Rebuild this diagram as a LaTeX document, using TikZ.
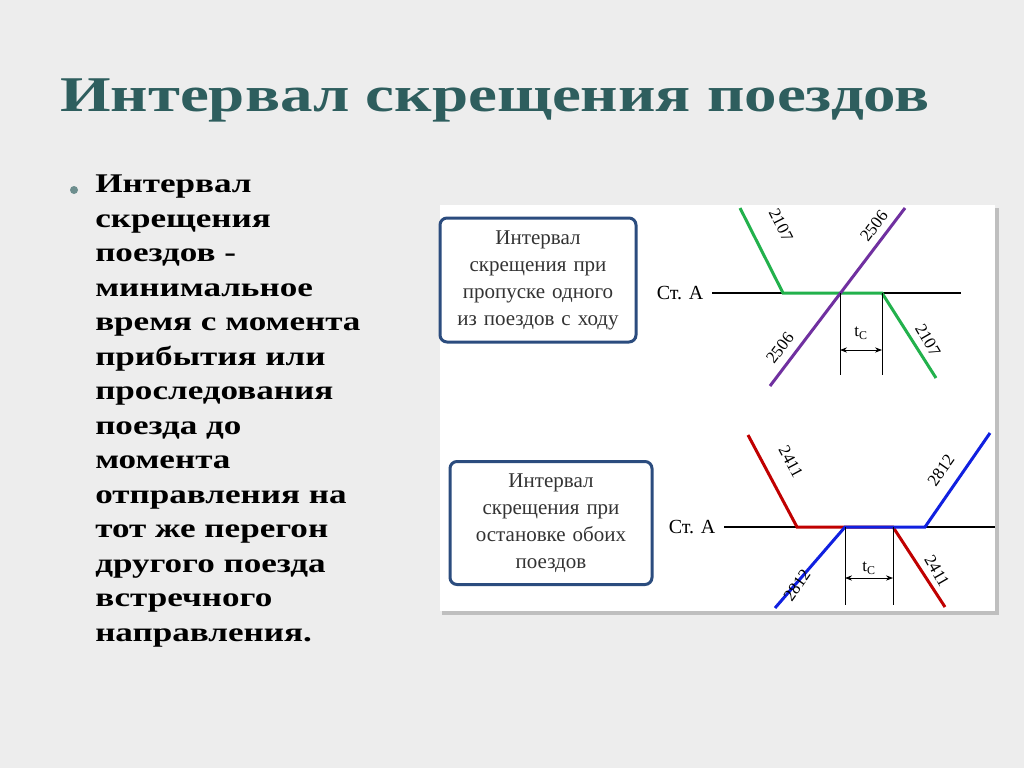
\documentclass[tikz,border=0pt]{standalone}
\usepackage{fontspec}
\setmainfont{Liberation Serif}
\usetikzlibrary{arrows.meta}
\definecolor{teal1}{HTML}{2E5E5E}
\definecolor{boxb}{HTML}{2B4C7E}
\definecolor{gr}{HTML}{22B14C}
\definecolor{pu}{HTML}{7030A0}
\definecolor{rd}{HTML}{C00000}
\definecolor{bl}{HTML}{1020E0}
\tikzset{
 info/.style={draw=boxb,line width=3pt,rounded corners=7pt,fill=white,align=center,font=\fontsize{21}{27}\selectfont,text=black!80,inner sep=2pt},
 tr/.style={line width=3pt},
 lab/.style={font=\fontsize{17}{17}\selectfont,inner sep=0pt},
 dim/.style={line width=0.8pt},
}
\begin{document}
\begin{tikzpicture}[x=1pt,y=-1pt]
\useasboundingbox (0,0) rectangle (1024,768);
\fill[black!7] (0,0) rectangle (1024,768);
\node[font=\fontsize{50}{50}\selectfont\bfseries,text=teal1,xscale=1.3,transform shape] (title) at (495,100) {Интервал скрещения поездов};
\fill[teal1!70] (74,190) circle (4);
\node[anchor=north west,align=left,font=\fontsize{27}{34.5}\selectfont\bfseries,inner sep=0,xscale=1.3,transform shape] (body) at (95,175) {Интервал\\скрещения\\поездов -\\минимальное\\время с момента\\прибытия или\\проследования\\поезда до\\момента\\отправления на\\тот же перегон\\другого поезда\\встречного\\направления.};
% panel
\fill[black!25] (442,208) rectangle (999,615);
\fill[white] (440,205) rectangle (995,611);
% top
\node[info,minimum width=196,minimum height=124,text width=190] (b1) at (538,280) {Интервал\\скрещения при\\пропуске одного\\из поездов с ходу};
\node[lab,font=\fontsize{20}{20}\selectfont] (s1) at (680,293) {Ст. А};
\coordinate (l1a) at (712,293); \coordinate (l1b) at (961,293);
\draw[line width=2.5pt] (l1a) -- (l1b);
\coordinate (g1) at (740,208); \coordinate (g2) at (783,293); \coordinate (g3) at (882,293); \coordinate (g4) at (936,378);
\draw[tr,gr] (g1) -- (g2) -- (g3) -- (g4);
\coordinate (p1) at (770,386); \coordinate (p2) at (905,208);
\draw[tr,pu] (p1) -- (p2);
\coordinate (v1a) at (840,293); \coordinate (v1b) at (840,375);
\coordinate (v2a) at (882,293); \coordinate (v2b) at (882,375);
\draw[dim] (v1a) -- (v1b); \draw[dim] (v2a) -- (v2b);
\draw[dim,{Stealth[length=7pt]}-{Stealth[length=7pt]}] (840,350) -- (882,350);
\node[lab] at (861,333) {t\textsubscript{C}};
\node[lab,rotate=-63] at (781,225) {2107};
\node[lab,rotate=53] at (874,226) {2506};
\node[lab,rotate=53] at (780,348) {2506};
\node[lab,rotate=-60] at (928,340) {2107};
% bottom
\node[info,minimum width=202,minimum height=123,text width=196] (b2) at (551,523) {Интервал\\скрещения при\\остановке обоих\\поездов};
\node[lab,font=\fontsize{20}{20}\selectfont] (s2) at (692,527) {Ст. А};
\coordinate (l2a) at (724,527); \coordinate (l2b) at (995,527);
\draw[line width=2.5pt] (l2a) -- (l2b);
\coordinate (r1) at (748,435); \coordinate (r2) at (797,527); \coordinate (r3) at (893,527); \coordinate (r4) at (945,607);
\draw[tr,rd] (r1) -- (r2) -- (r3) -- (r4);
\coordinate (q1) at (775,608); \coordinate (q2) at (845,527); \coordinate (q3) at (925,527); \coordinate (q4) at (990,433);
\draw[tr,bl] (q1) -- (q2) -- (q3) -- (q4);
\draw[dim] (845,527) -- (845,605); \draw[dim] (893,527) -- (893,605);
\draw[dim,{Stealth[length=7pt]}-{Stealth[length=7pt]}] (845,578) -- (893,578);
\node[lab] at (869,568) {t\textsubscript{C}};
\node[lab,rotate=-62] at (791,462) {2411};
\node[lab,rotate=55] at (941,470) {2812};
\node[lab,rotate=55] at (797,585) {2812};
\node[lab,rotate=-60] at (937,571) {2411};
\end{tikzpicture}
\end{document}
